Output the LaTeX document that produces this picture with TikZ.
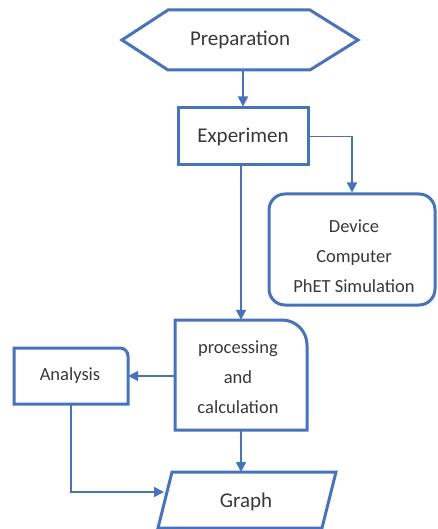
\documentclass[tikz,border=0pt]{standalone}
\usepackage{fontspec}
\setmainfont{Carlito}
\usetikzlibrary{arrows.meta,calc}
\definecolor{fblue}{RGB}{68,114,196}
\definecolor{ftext}{RGB}{56,56,56}
\begin{document}
\begin{tikzpicture}[x=1pt,y=-1pt,
  shapeline/.style={draw=fblue,line width=3pt},
  conn/.style={draw=fblue,line width=1.8pt,-{Triangle[length=10pt,width=10pt]}},
  lbl/.style={text=ftext,font=\fontsize{21}{25}\selectfont,inner sep=0pt},
  sml/.style={text=ftext,font=\fontsize{18.5}{30}\selectfont,align=center,inner sep=0pt}]
\useasboundingbox (0,0) rectangle (437,529);

% Preparation hexagon
\draw[shapeline] (122,40) -- (168,10) -- (310,10) -- (358,40) -- (310,70) -- (168,70) -- cycle;
\node[lbl,minimum width=236pt,minimum height=60pt] (prep) at (240,40) {Preparation};

% Experimen
\node[shapeline,lbl,rectangle,minimum width=130pt,minimum height=57pt] (exp) at (243,136.5) {Experimen};

% Device box
\node[shapeline,rounded corners=16pt,minimum width=166pt,minimum height=111pt] (dev) at (352,249.5) {};
\node[sml] (devtxt) at (354,256) {Device\\Computer\\PhET Simulation};

% processing and calculation
\node[minimum width=132pt,minimum height=110pt,inner sep=0pt] (proc) at (241,375) {};
\draw[shapeline] (175,320) -- (175,430) -- (307,430) -- (307,345) to[out=90,in=0] (282,320) -- cycle;
\node[sml] (proctxt) at (238,377) {processing\\and\\calculation};

% Analysis
\node[minimum width=114pt,minimum height=56pt,inner sep=0pt] (ana) at (71,376) {};
\draw[shapeline] (14,348) -- (14,404) -- (128,404) -- (128,356) to[out=90,in=0] (120,348) -- cycle;
\node[sml] (anatxt) at (70,376) {Analysis};

% Graph
\draw[shapeline] (172,472) -- (336,472) -- (322,528) -- (158,528) -- cycle;
\node[lbl] (graph) at (246,502) {Graph};
\coordinate (gtop) at (243,472);
\coordinate (gleft) at (164,492);

% connectors
\draw[conn] (exp.north |- prep.south) -- (exp.north);
\draw[conn] (exp.east) -| (dev.north);
\draw[conn] (proc.north |- exp.south) -- (proc.north);
\draw[conn] (proc.west |- ana.east) -- (ana.east);
\draw[conn] (proc.south) -- (proc.south |- gtop);
\draw[conn] (ana.south) |- (gleft);
\end{tikzpicture}
\end{document}
